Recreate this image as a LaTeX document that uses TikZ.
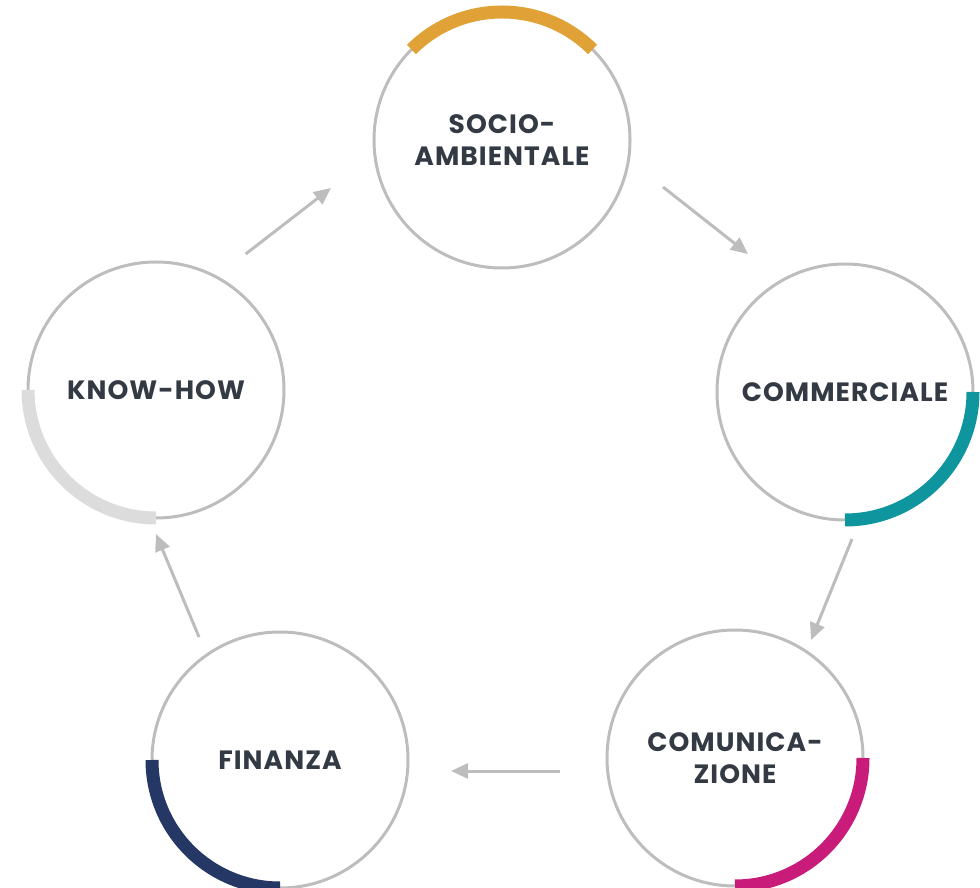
\documentclass[tikz,border=0pt]{standalone}
\usepackage{fontspec}
\setmainfont{Poppins}[LetterSpace=4]
\usetikzlibrary{arrows.meta}
\definecolor{ringgrey}{HTML}{BDBDBD}
\definecolor{txtdark}{HTML}{333A44}
\definecolor{accorange}{HTML}{E0A236}
\definecolor{accteal}{HTML}{0E959E}
\definecolor{accmagenta}{HTML}{C81B7A}
\definecolor{accnavy}{HTML}{253865}
\definecolor{acclight}{HTML}{DCDCDC}
\tikzset{
  ring/.style={circle, draw=ringgrey, line width=3pt, minimum size=256pt, inner sep=0pt,
    font=\fontsize{26.5}{32}\selectfont\bfseries, text=txtdark, align=center},
  accent/.style={line width=13pt},
  flow/.style={draw=ringgrey, line width=3pt, -{Triangle[length=17pt,width=15pt]}}
}
\begin{document}
\begin{tikzpicture}[x=1pt,y=1pt]
\useasboundingbox (0,0) rectangle (980,887);
\node[ring] (soc) at (502,747) {SOCIO-\\AMBIENTALE};
\node[ring] (com) at (845,495) {COMMERCIALE};
\node[ring] (cmz) at (735,129) {COMUNICA-\\ZIONE};
\node[ring] (fin) at (280,127) {FINANZA};
\node[ring] (kh) at (156,497) {KNOW-HOW};
\draw[accent, accorange] ([shift={(45:128)}]soc.center) arc (45:135:128);
\draw[accent, accteal] ([shift={(0:128)}]com.center) arc (0:-90:128);
\draw[accent, accmagenta] ([shift={(0:128)}]cmz.center) arc (0:-90:128);
\draw[accent, accnavy] ([shift={(180:128)}]fin.center) arc (180:270:128);
\draw[accent, acclight] ([shift={(180:128)}]kh.center) arc (180:270:128);
\coordinate (a1s) at (245.7,633); \coordinate (a1e) at (331,699);
\coordinate (a2s) at (663,700); \coordinate (a2e) at (748,633);
\coordinate (a3s) at (852,348); \coordinate (a3e) at (811,247);
\coordinate (a4s) at (560,116); \coordinate (a4e) at (451,116);
\coordinate (a5s) at (199,250); \coordinate (a5e) at (156,353);
\draw[flow] (a1s) -- (a1e);
\draw[flow] (a2s) -- (a2e);
\draw[flow] (a3s) -- (a3e);
\draw[flow] (a4s) -- (a4e);
\draw[flow] (a5s) -- (a5e);
\end{tikzpicture}
\end{document}
